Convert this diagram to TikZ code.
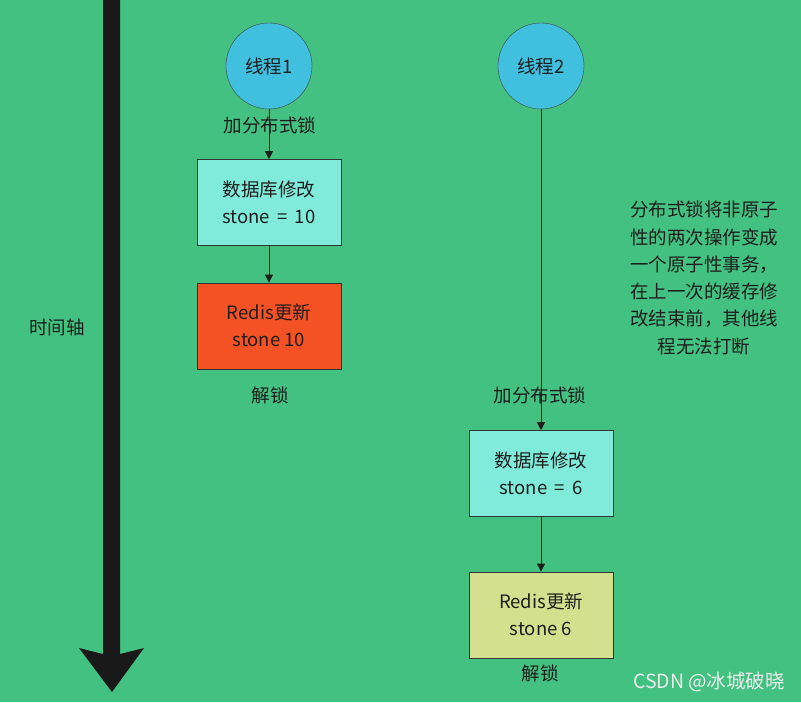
\documentclass[tikz,border=0pt]{standalone}
\usepackage{fontspec}
\setmainfont{Noto Sans CJK SC}
\usepackage{tikz}
\usetikzlibrary{arrows.meta,positioning}
\definecolor{bggreen}{RGB}{67,193,128}
\definecolor{thblue}{RGB}{65,191,223}
\definecolor{dbcyan}{RGB}{128,235,219}
\definecolor{redisred}{RGB}{244,81,37}
\definecolor{redisyel}{RGB}{211,224,142}
\definecolor{ink}{RGB}{30,30,30}
\begin{document}
\begin{tikzpicture}[x=1pt, y=1pt, font=\fontsize{18.5}{27}\selectfont, text=ink]
\tikzstyle{thread}=[draw=black!75, circle, fill=thblue, minimum size=86pt, inner sep=0pt]
\tikzstyle{blk}=[draw=black!80, align=center, minimum width=144pt, minimum height=86pt, inner sep=0pt]
\tikzstyle{lbl}=[inner sep=0pt]
\tikzstyle{flow}=[draw=ink, line width=0.9pt, -{Triangle[length=8pt,width=8pt]}]
\fill[bggreen] (0,0) rectangle (801,-702);
\useasboundingbox (0,0) rectangle (801,-702);
\fill[black!90] (103,0) -- (120,0) -- (120,-654) -- (144,-648) -- (112,-692) -- (79,-648) -- (103,-654) -- cycle;
\node[lbl] (axis) at (57,-327) {时间轴};
\node[thread] (th1) at (269,-66) {线程1};
\node[blk, fill=dbcyan, below=50pt of th1] (db1) {数据库修改\\stone\,\ =\ \,10};
\node[blk, fill=redisred, below=37pt of db1] (redis1) {Redis更新\\stone 10};
\node[lbl] (lock1) at (270,-125) {加分布式锁};
\node[lbl] (unlock1) at (270,-395) {解锁};
\node[thread] (th2) at (541,-66) {线程2};
\node[blk, fill=dbcyan, below=321pt of th2] (db2) {数据库修改\\stone\,\ =\ \,6};
\node[blk, fill=redisyel, below=55pt of db2] (redis2) {Redis更新\\stone 6};
\node[lbl] (lock2) at (540,-395) {加分布式锁};
\node[lbl] (unlock2) at (540,-673) {解锁};
\node[lbl, align=center, font=\fontsize{18.5}{27.3}\selectfont] (note) at (704,-278) {分布式锁将非原子\\性的两次操作变成\\一个原子性事务，\\在上一次的缓存修\\改结束前，其他线\\程无法打断};
\node[lbl, text=white!85!gray, font=\fontsize{19.5}{22}\selectfont] (mark) at (709,-682) {CSDN @冰城破晓};
\draw[flow] (th1) -- (db1);
\draw[flow] (db1) -- (redis1);
\draw[flow] (th2) -- (db2);
\draw[flow] (db2) -- (redis2);
\end{tikzpicture}
\end{document}
